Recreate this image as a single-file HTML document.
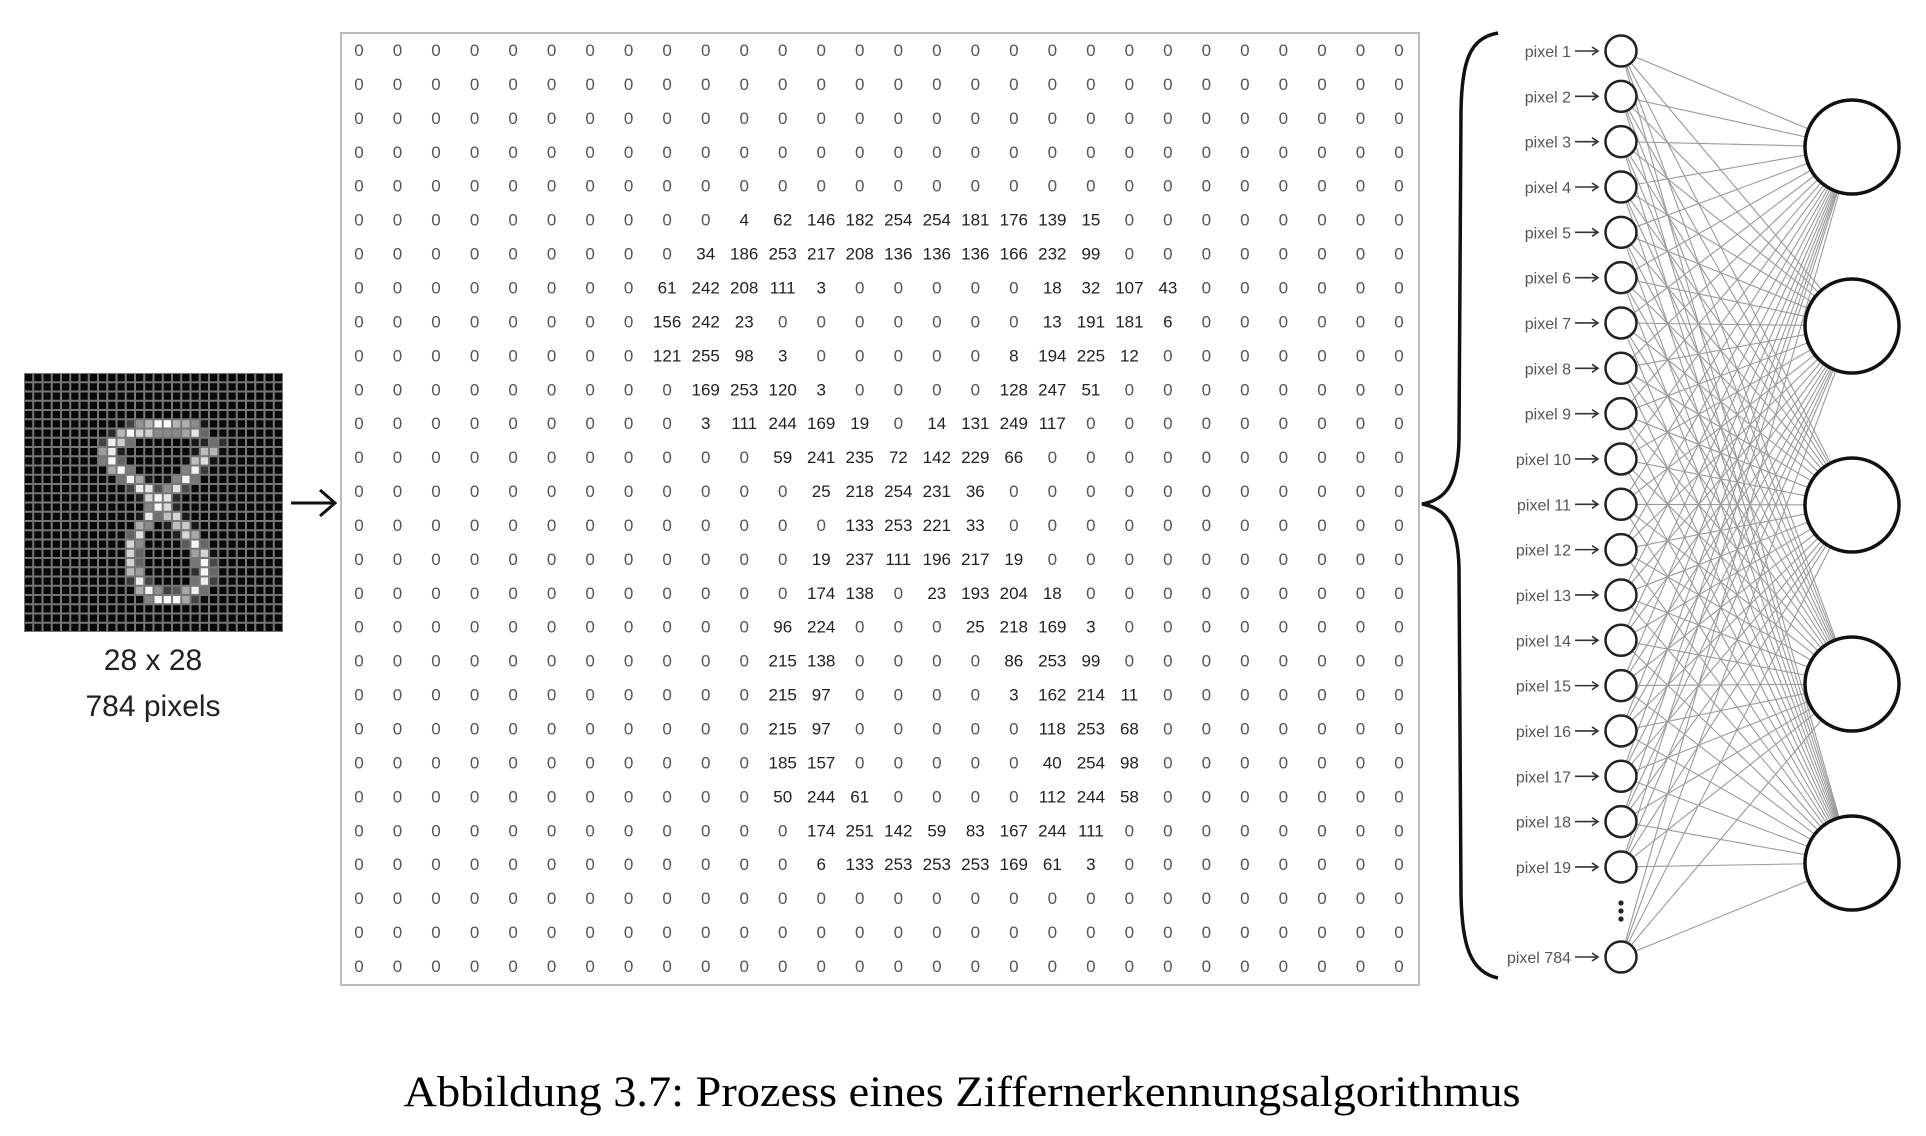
<!DOCTYPE html>
<html><head><meta charset="utf-8"><style>
html,body{margin:0;padding:0;background:#fff;width:1926px;height:1136px;overflow:hidden}
svg{display:block}
</style></head><body>
<svg id="fig" width="1926" height="1136" viewBox="0 0 1926 1136" xmlns="http://www.w3.org/2000/svg">
<g id="img"></g>
<text x="153" y="670" text-anchor="middle" font-family="Liberation Sans, sans-serif" font-size="30" fill="#222">28 x 28</text>
<text x="153" y="716" text-anchor="middle" font-family="Liberation Sans, sans-serif" font-size="30" fill="#222">784 pixels</text>
<g stroke="#111" stroke-width="3" fill="none">
<line x1="291" y1="503" x2="334" y2="503"/><polyline points="320,490 335,503 320,516"/>
</g>
<rect x="341" y="33" width="1078" height="952" fill="#fff" stroke="#bbb" stroke-width="2"/>
<g id="mat" font-family="Liberation Sans, sans-serif" font-size="17" text-anchor="middle"></g>
<path d="M1498,33 C1470,38 1462,60 1461,110 L1459,440 C1458,485 1445,500 1422,504 C1445,508 1458,523 1459,568 L1461,895 C1462,945 1470,972 1498,978" fill="none" stroke="#111" stroke-width="3.5"/>
<g id="net"></g>
<text x="962" y="1106" text-anchor="middle" font-family="Liberation Serif, serif" font-size="43" fill="#000" textLength="1117" lengthAdjust="spacingAndGlyphs">Abbildung 3.7: Prozess eines Ziffernerkennungsalgorithmus</text>
</svg>
<script>
// 28x28 pixel values (rows), all others zero
const nonZeroRows = [5,6,7,8,9,10,11,12,13,14,15,16,17,18,19,20,21,22,23,24];
const rowStart = [10,9,8,8,8,9,9,11,12,13,12,12,11,11,11,11,11,11,12,12];
const rowValues = [
 [4,62,146,182,254,254,181,176,139,15],
 [34,186,253,217,208,136,136,136,166,232,99],
 [61,242,208,111,3,0,0,0,0,0,18,32,107,43],
 [156,242,23,0,0,0,0,0,0,0,13,191,181,6],
 [121,255,98,3,0,0,0,0,0,8,194,225,12],
 [169,253,120,3,0,0,0,0,128,247,51],
 [3,111,244,169,19,0,14,131,249,117],
 [59,241,235,72,142,229,66],
 [25,218,254,231,36],
 [133,253,221,33],
 [19,237,111,196,217,19],
 [174,138,0,23,193,204,18],
 [96,224,0,0,0,25,218,169,3],
 [215,138,0,0,0,0,86,253,99],
 [215,97,0,0,0,0,3,162,214,11],
 [215,97,0,0,0,0,0,118,253,68],
 [185,157,0,0,0,0,0,40,254,98],
 [50,244,61,0,0,0,0,112,244,58],
 [174,251,142,59,83,167,244,111],
 [6,133,253,253,253,169,61,3]
];
const inputLabels = ["pixel 1","pixel 2","pixel 3","pixel 4","pixel 5","pixel 6","pixel 7","pixel 8","pixel 9","pixel 10","pixel 11","pixel 12","pixel 13","pixel 14","pixel 15","pixel 16","pixel 17","pixel 18","pixel 19","pixel 784"];
const outputCount = 5;

const NS="http://www.w3.org/2000/svg";
function mk(tag, attrs, parent){const e=document.createElementNS(NS,tag);for(const k in attrs)e.setAttribute(k,attrs[k]);parent.appendChild(e);return e;}
const M=[];for(let r=0;r<28;r++){M.push(new Array(28).fill(0));}
nonZeroRows.forEach((r,i)=>{rowValues[i].forEach((v,j)=>{M[r][rowStart[i]+j]=v;});});

// digit image
const img=document.getElementById('img');
const ix=24, iy=373, isz=259, cs=isz/28;
const bg=mk('rect',{x:ix,y:iy,width:isz,height:isz,fill:'#777'},img);


for(let r=0;r<28;r++)for(let c=0;c<28;c++){
  const v=M[r][c]; const g=Math.round(v*0.95+8);
  const px=mk('rect',{x:(ix+c*cs+1).toFixed(2),y:(iy+r*cs+1).toFixed(2),width:(cs-2).toFixed(2),height:(cs-2).toFixed(2),fill:`rgb(${g},${g},${g})`},img);
  
  
}

// matrix
const mat=document.getElementById('mat');
const x0=359, x1=1399, y0=50, y1=966;
const colX=c=>x0+c*(x1-x0)/27, rowY=r=>y0+r*(y1-y0)/27;
for(let r=0;r<28;r++)for(let c=0;c<28;c++){
  const v=M[r][c];
  const t=mk('text',{x:colX(c).toFixed(1),y:(rowY(r)+6).toFixed(1),fill:v?'#222':'#555'},mat);
  
  
  t.textContent=v;
}

// network
const net=document.getElementById('net');
const inX=1621, inR=15.5, outX=1852, outR=47;
const inY=i=> i<19 ? 51+i*45.33 : 957;
const outY=k=>147+k*179;
const lines=mk('g',{stroke:'#9a9a9a','stroke-width':'1.1'},net);


inputLabels.forEach((lab,i)=>{for(let k=0;k<outputCount;k++){
  const l=mk('line',{x1:inX,y1:inY(i),x2:outX,y2:outY(k)},lines);
  
  
}});
inputLabels.forEach((lab,i)=>{
  const y=inY(i);
  const t=mk('text',{x:1571,y:y+6,'text-anchor':'end','font-family':'Liberation Sans, sans-serif','font-size':'16',fill:'#555'},net);
  
  
  t.textContent=lab;
  const a=mk('g',{stroke:'#333','stroke-width':'1.6',fill:'none'},net);
  
  
  mk('line',{x1:1575,y1:y,x2:1598,y2:y},a);
  mk('polyline',{points:`1592,${y-4} 1598,${y} 1592,${y+4}`},a);
  const c=mk('circle',{cx:inX,cy:y,r:inR,fill:'#fff',stroke:'#222','stroke-width':'2.5'},net);
  
  
});
[903,911,919].forEach(y=>{
  const d=mk('circle',{cx:inX,cy:y,r:2.6,fill:'#222'},net);
  
  
});
for(let k=0;k<outputCount;k++){
  const c=mk('circle',{cx:outX,cy:outY(k),r:outR,fill:'#fff',stroke:'#111','stroke-width':'3.5'},net);
  
  
}
</script>
</body></html>
